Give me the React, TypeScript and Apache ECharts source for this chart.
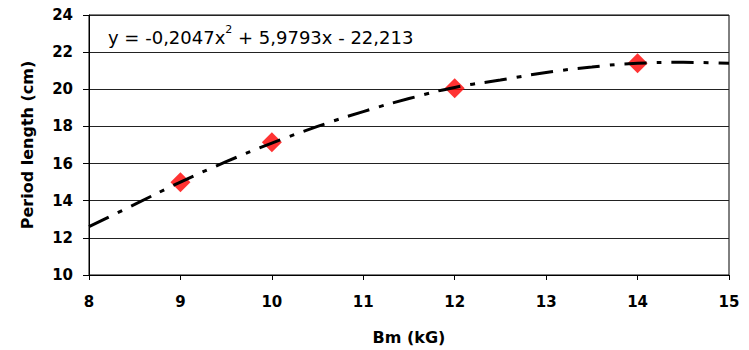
import React, { useEffect, useRef } from "react";
import * as echarts from "echarts";

const bmValues = [9, 10, 12, 14];
const periodValues = [15.0, 17.15, 20.05, 21.4];
const trendX = [8, 8.5, 9, 9.5, 10, 10.5, 11, 11.5, 12, 12.5, 13, 13.5, 14, 14.5, 15];
const trendY = [12.6, 13.8, 15.0, 16.1, 17.1, 18.0, 18.8, 19.5, 20.1, 20.5, 20.9, 21.2, 21.4, 21.45, 21.4];
const xTicks = [8, 9, 10, 11, 12, 13, 14, 15];
const yTicks = [10, 12, 14, 16, 18, 20, 22, 24];

export default function App() {
  const ref = useRef<HTMLDivElement>(null);
  useEffect(() => {
    if (!ref.current) return;
    const chart = echarts.init(ref.current, null, { renderer: "svg" });
    const font = "'DejaVu Sans', 'Liberation Sans', Arial, sans-serif";
    chart.setOption({
      animation: false,
      backgroundColor: "#fff",
      grid: {
        left: 89,
        right: 20,
        top: 15,
        bottom: 74,
        show: true,
        borderColor: "#000",
        borderWidth: 1,
      },
      xAxis: {
        type: "value",
        min: xTicks[0],
        max: xTicks[xTicks.length - 1],
        interval: 1,
        name: "Bm (kG)",
        nameLocation: "middle",
        nameGap: 54,
        nameTextStyle: { fontFamily: font, fontWeight: "bold", fontSize: 16, color: "#000" },
        axisLine: { lineStyle: { color: "#000", width: 1 } },
        axisTick: { show: true, length: 5, lineStyle: { color: "#000" } },
        axisLabel: { fontFamily: font, fontWeight: "bold", fontSize: 15, color: "#000", margin: 19 },
        splitLine: { show: false },
      },
      yAxis: {
        type: "value",
        min: yTicks[0],
        max: yTicks[yTicks.length - 1],
        interval: 2,
        name: "Period length (cm)",
        nameLocation: "middle",
        nameGap: 54,
        nameTextStyle: { fontFamily: font, fontWeight: "bold", fontSize: 16, color: "#000" },
        axisLine: { show: true, lineStyle: { color: "#000", width: 1 } },
        axisTick: { show: true, length: 6, lineStyle: { color: "#000" } },
        axisLabel: { fontFamily: font, fontWeight: "bold", fontSize: 15, color: "#000", margin: 16 },
        splitLine: { show: true, lineStyle: { color: "#222", width: 1 } },
      },
      series: [
        {
          type: "line",
          data: trendX.map((x, i) => [x, trendY[i]]),
          smooth: true,
          showSymbol: false,
          symbol: "none",
          lineStyle: { color: "#000", width: 3, type: [22, 10, 5, 10] },
          z: 3,
        },
        {
          type: "scatter",
          data: bmValues.map((x, i) => [x, periodValues[i]]),
          symbol: "diamond",
          symbolSize: 20,
          itemStyle: { color: "#ff0000" },
          z: 2,
        },
      ],
      graphic: [
        {
          type: "text",
          left: 108,
          top: 24,
          style: {
            text: "{n|y = -0,2047x}{s|2}{n| + 5,9793x - 22,213}",
            rich: {
              n: { fontFamily: font, fontSize: 18, fill: "#000", verticalAlign: "bottom", lineHeight: 22 },
              s: { fontFamily: font, fontSize: 11, fill: "#000", verticalAlign: "top", lineHeight: 22, padding: [0, 0, 9, 0] },
            },
          },
        },
      ],
    });
    return () => chart.dispose();
  }, []);
  return (
    <div
      ref={ref}
      style={{ position: "fixed", left: 0, top: 0, width: 749, height: 350 }}
    />
  );
}
